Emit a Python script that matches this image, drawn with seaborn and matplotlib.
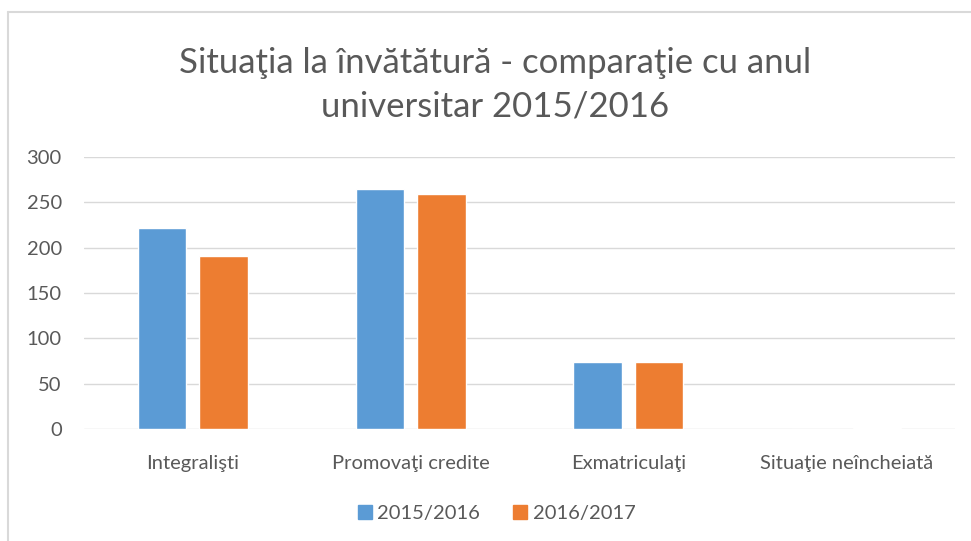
import pandas as pd
import matplotlib.pyplot as plt
import seaborn as sns
from matplotlib.lines import Line2D

categories = ["Integralişti", "Promovaţi credite", "Exmatriculaţi", "Situaţie neîncheiată"]
years = ["2015/2016", "2016/2017"]
values_2015 = [222, 265, 74, 0]
values_2016 = [191, 259, 74, 1]
colors = ["#5B9BD5", "#ED7D31"]
title = "Situaţia la învătătură - comparaţie cu anul\nuniversitar 2015/2016"

df = pd.DataFrame({
    "Categorie": categories * 2,
    "An": [years[0]] * len(categories) + [years[1]] * len(categories),
    "Valoare": values_2015 + values_2016,
})

sns.set_theme(style="white")
plt.rcParams["font.family"] = ["Lato", "DejaVu Sans"]

fig = plt.figure(figsize=(9.71, 5.41), dpi=100)
ax = fig.add_axes([0.0865, 0.207, 0.897, 0.503])

sns.barplot(data=df, x="Categorie", y="Valoare", hue="An", palette=colors,
            width=0.565, gap=0.21, ax=ax, saturation=1, legend=False)

ax.set_ylim(0, 300)
ax.set_yticks(range(0, 301, 50))
ax.yaxis.grid(True, color="#D9D9D9", linewidth=1)
ax.set_axisbelow(True)
for s in ax.spines.values():
    s.set_visible(False)
ax.set_xlabel("")
ax.set_ylabel("")
ax.tick_params(axis="both", length=0, labelsize=14.5, labelcolor="#595959")
ax.tick_params(axis="x", pad=19)
ax.tick_params(axis="y", pad=16)

fig.text(0.51, 0.843, title, ha="center", va="center", fontsize=25,
         color="#595959", linespacing=1.45)

handles = [Line2D([], [], marker="s", linestyle="", markersize=10,
                  markerfacecolor=c, markeredgecolor=c) for c in colors]
fig.legend(handles, years, loc="center", bbox_to_anchor=(0.51, 0.05), ncol=2,
           frameon=False, fontsize=14.5, labelcolor="#595959",
           handletextpad=0.1, columnspacing=1.5, handlelength=1.0)

# chart frame (left and top edges)
fig.add_artist(Line2D([0.0085, 0.0085], [0, 0.978], color="#D9D9D9", linewidth=1.5))
fig.add_artist(Line2D([0.0085, 1.0], [0.978, 0.978], color="#D9D9D9", linewidth=1.5))

fig.savefig("out.png", dpi=100)
